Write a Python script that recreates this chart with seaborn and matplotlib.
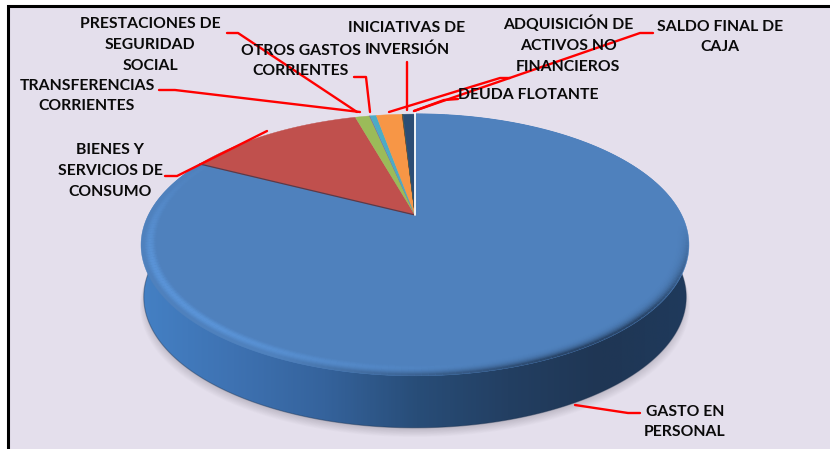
import numpy as np
import matplotlib.pyplot as plt
import seaborn as sns
from matplotlib.collections import LineCollection
from matplotlib.colors import to_rgb
from matplotlib.patches import Polygon, Rectangle

labels = ["GASTO EN\nPERSONAL", "BIENES Y\nSERVICIOS DE\nCONSUMO", "TRANSFERENCIAS\nCORRIENTES",
          "PRESTACIONES DE\nSEGURIDAD\nSOCIAL", "OTROS GASTOS\nCORRIENTES", "INICIATIVAS DE\nINVERSIÓN",
          "ADQUISICIÓN DE\nACTIVOS NO\nFINANCIEROS", "DEUDA FLOTANTE", "SALDO FINAL DE\nCAJA"]
values = [82.5, 13.1, 1.05, 0.05, 0.45, 1.9, 0.03, 0.03, 0.89]
slice_colors = ["#4F81BD", "#C0504D", "#9BBB59", "#8064A2", "#4BACC6", "#F79646", "#772C2A", "#5F7530", "#2C4D75"]

# label centres and leader lines, in picture pixels
label_xy = [(685, 422), (110, 171), (87, 96), (150, 45), (301, 61), (407, 39), (568, 45), (528, 95), (720, 37)]
leaders = [[(575, 405), (628, 413), (640, 413)],
           [(165, 176), (177, 176), (267, 131)],
           [(159, 90), (175, 90), (360, 112)],
           [(227, 33), (238, 33), (357, 112)],
           [(354, 77), (366, 77), (370, 112)],
           [(407, 62), (407, 110)],
           [(510, 78), (500, 78), (389, 112)],
           [(458, 99), (444, 100), (414, 111)],
           [(653, 33), (640, 33), (414, 111)]]

CX, CY = 415, 215
K, A, B = 0.229, 124, 266.7
DEPTH = 52


def project(u, v):
    # tilted disc: unit circle to picture pixels
    w = 1 + K * v
    return CX + B * u / w, CY - A * v / w


def outline(t1, t2, r=1.0, n=200):
    th = np.radians(np.linspace(t1, t2, n))
    return np.column_stack(project(r * np.cos(th), r * np.sin(th)))


def mix(a, b, t):
    return tuple(np.array(to_rgb(a)) * (1 - t) + np.array(to_rgb(b)) * t)


sns.set_theme(style="white")
plt.rcParams['font.family'] = ['Lato', 'DejaVu Sans']

fig = plt.figure(figsize=(8.3, 4.49), dpi=100, facecolor="white")
ax = fig.add_axes([0, 0, 1, 1])

wedges, _ = ax.pie(values, colors=sns.color_palette(slice_colors), startangle=90, counterclock=False)
thetas = [(w.theta1, w.theta2) for w in wedges]
for w in wedges:
    w.set_visible(False)

ax.set_aspect("auto")
ax.set_xlim(0, 830)
ax.set_ylim(449, 0)
ax.axis("off")

ax.add_patch(Rectangle((8, 6), 830, 450, fc="#E4DFEC", ec="black", lw=2.2, zorder=0))

# soft shadow under the disc
rim_all = outline(0, 360, n=400)
for i in range(14):
    pts = rim_all.copy()
    pts[:, 0] = CX + (pts[:, 0] - CX) * (0.98 + i * 0.0018)
    pts[:, 1] += DEPTH + i * 0.7
    ax.add_patch(Polygon(pts, fc="#4a4a5a", ec="none", alpha=0.02, zorder=1))

# side of the disc, shaded from left to right
left_t, right_t = 180 - 13.2, 360 + 13.2
front = outline(left_t, right_t, n=300)
front[:, 0] = CX + (front[:, 0] - CX) * 0.99
front[:, 1] += DEPTH
back = outline(right_t, left_t + 360, n=300)
side = Polygon(np.vstack([front, back]), fc="none", ec="none", zorder=2)
ax.add_patch(side)
side_cmap = sns.blend_palette(["#4480C4", "#3E72B2", "#35639C", "#284D78", "#233F62", "#1F3654", "#1F3A5C"],
                              n_colors=256, as_cmap=True)
im = ax.imshow(np.linspace(0, 1, 300)[None, :], cmap=side_cmap, extent=[140, 692, 432, 230],
               aspect="auto", zorder=2)
im.set_clip_path(side)
ax.plot(front[:, 0], front[:, 1], color="#1D3350", lw=0.8, alpha=0.4, zorder=3)
ax.set_xlim(0, 830)
ax.set_ylim(449, 0)

# top face of the pie, from the wedge angles of ax.pie
for (t1, t2), c in zip(thetas, slice_colors):
    pts = np.vstack([[CX, CY], outline(t1, t2, n=max(4, int(t2 - t1) * 2))])
    ax.add_patch(Polygon(pts, fc=c, ec=c, lw=0.3, zorder=4))
edge_end = outline(thetas[1][1], thetas[1][1], n=1)[0]
ax.plot([edge_end[0], CX], [edge_end[1], CY], color="#5A3A4A", lw=0.9, zorder=5)
ax.plot([CX, CX], [113, CY], color="white", lw=1.3, zorder=5)

# bevel along the rim of the big slice
segs, cols = [], []
t1, t2 = thetas[0]
for r_t in np.linspace(0, 1, 12):
    r = 0.945 + 0.05 * r_t
    line = outline(t1, t2, r=r, n=260)
    phi = (90 - np.linspace(t1, t2, 260)) % 360
    for i in range(259):
        p = phi[i]
        light = np.clip((p - 165) / 55, 0, 1) * np.clip((295 - p) / 45, 0.15, 1) * np.sin(np.pi * r_t) ** 2
        dark = np.clip((205 - p) / 50, 0, 1) * np.clip((p - 95) / 40, 0, 1) * r_t ** 3
        c = mix(mix(slice_colors[0], "#5E9AE0", light * 0.75), "#1F3654", dark * 0.8)
        segs.append(line[i:i + 2])
        cols.append(c)
ax.add_collection(LineCollection(segs, colors=cols, lw=1.5, zorder=4.5, capstyle="butt"))

for pts in leaders:
    xs, ys = zip(*pts)
    ax.plot(xs, ys, color="#FF0000", lw=1.7, zorder=6, solid_joinstyle="round")

for lab, (x, y) in zip(labels, label_xy):
    ax.text(x, y, lab, ha="center", va="center", fontsize=11.3, fontweight="bold",
            color="#0A0A0A", linespacing=1.62, zorder=7)

plt.savefig("out.png", dpi=100)
